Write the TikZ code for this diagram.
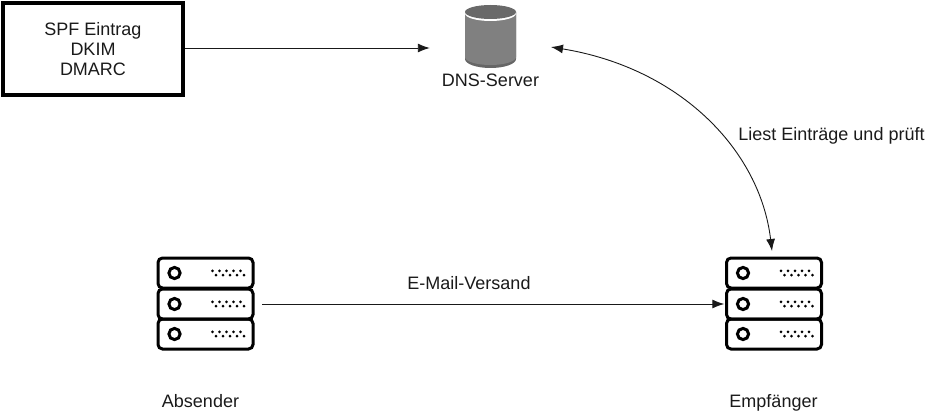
\documentclass[tikz,border=0pt]{standalone}
\usepackage{fontspec}
\setmainfont{Liberation Sans}
\usetikzlibrary{arrows.meta}
\definecolor{cyl}{HTML}{808080}
\definecolor{cyltop}{HTML}{696969}
\definecolor{cylrim}{HTML}{666666}
\definecolor{txt}{HTML}{1A1A1A}
\tikzset{
  every node/.style={font=\fontsize{18}{20}\selectfont,text=txt},
  label text/.style={inner sep=0pt,align=center},
  conn/.style={draw=black!90,line width=0.9pt,-{Latex[length=12pt,width=9pt]}},
  connb/.style={draw=black!90,line width=0.9pt,{Latex[length=12pt,width=9pt]}-{Latex[length=12pt,width=9pt]}},
  rackbox/.style={draw=black,line width=3pt,rounded corners=4.5pt},
  rackled/.style={draw=black,line width=3pt,fill=white},
  rack/.style={inner sep=0pt,minimum width=95pt,minimum height=91pt},
  pics/rackrow/.style={code={
    \draw[rackbox] (-47.5,-15) rectangle (47.5,15);
    \draw[rackled] (-31,0) circle (5.6);
    \foreach \x in {7,14,21,28,35}{\fill[black] (\x,-2.2) circle (1.5);}
    \foreach \x in {10.5,17.5,24.5,31.5,38.5}{\fill[black] (\x,2.2) circle (1.5);}
  }}
}
\begin{document}
\begin{tikzpicture}[x=1pt,y=-1pt]
\useasboundingbox (0,0) rectangle (932,417);
% record box
\node[draw=black,line width=4pt,minimum width=180pt,minimum height=92pt,inner sep=0pt,label text] (rec) at (93,49) {SPF Eintrag\\DKIM\\DMARC};
% DNS cylinder
\node[inner sep=0pt,minimum width=51pt,minimum height=64pt] (dns) at (490.5,36) {};
\fill[cylrim] (465,12) -- (465,59) arc[start angle=180,end angle=0,x radius=25.5,y radius=9] -- (516,12) -- cycle;
\fill[cyl] (465,12) -- (465,57) arc[start angle=180,end angle=0,x radius=25.5,y radius=8] -- (516,12) -- cycle;
\fill[white] (465,12) -- (465,13.5) arc[start angle=180,end angle=0,x radius=25.5,y radius=7.5] -- (516,12) -- cycle;
\fill[cyltop] (490.5,12) ellipse[x radius=25.5,y radius=7];
\node[label text] (dnsl) at (490.5,80) {DNS-Server};
% servers
\node[rack] (abs) at (205.5,304) {};
\foreach \y in {273,304,334}{\pic at (205.5,\y) {rackrow};}
\node[rack] (emp) at (774,304) {};
\foreach \y in {273,304,334}{\pic at (774,\y) {rackrow};}
\node[label text] (absl) at (200.5,401) {Absender};
\node[label text] (empl) at (773.5,403) {Empfänger};
% connectors
\draw[conn,shorten >=35pt] (rec.east |- 0,48) -- (dns.west |- 0,48);
\draw[conn,shorten <=9pt,shorten >=2pt] (abs.east) -- (emp.west);
\draw[connb] (551,47) .. controls (680,68) and (760,150) .. (772,251);
\node[label text] (lies) at (831.5,136) {Liest Einträge und prüft};
\node[label text] (mail) at (469,283) {E-Mail-Versand};
\end{tikzpicture}
\end{document}
